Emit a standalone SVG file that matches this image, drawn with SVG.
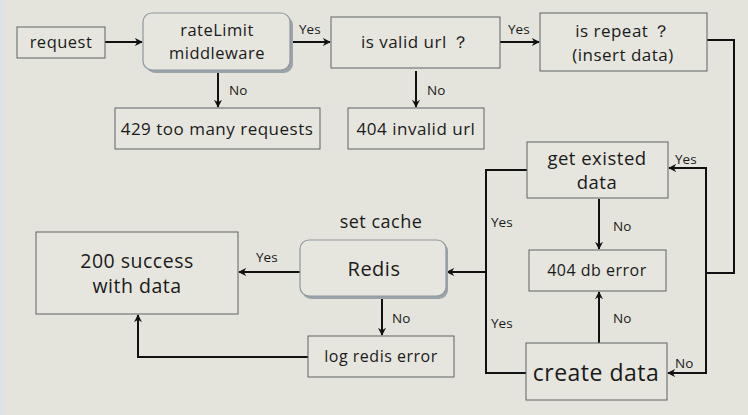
<svg xmlns="http://www.w3.org/2000/svg" width="748" height="415" viewBox="0 0 748 415">
<style>
.bx{fill:#e6e6de;stroke:#5e6266;stroke-width:1}
.rb{fill:#e6e6de;stroke:#8e979c;stroke-width:1.2}
.sh{fill:#9aa3aa}
.t{font-family:"Open Sans","DejaVu Sans",sans-serif;fill:#1a1a1a;text-anchor:middle;letter-spacing:0.5px}
.l{font-family:"Open Sans","DejaVu Sans",sans-serif;fill:#1a1a1a;font-size:13.5px}
.c{fill:none;stroke:#111;stroke-width:2}
</style>
<defs>
<marker id="a" viewBox="0 0 10 10" refX="9" refY="5" markerWidth="4" markerHeight="4" orient="auto" markerUnits="strokeWidth">
<path d="M0,0 L10,5 L0,10 L3,5 Z" fill="#111"/>
</marker>
</defs>
<rect width="748" height="415" fill="#e4e4dc"/>
<rect width="4" height="415" fill="#dde2e6"/>
<g id="connectors">
<path class="c" d="M105,42 H142" marker-end="url(#a)"/>
<path class="c" d="M290,42 H330" marker-end="url(#a)"/>
<path class="c" d="M500,42 H539" marker-end="url(#a)"/>
<path class="c" d="M218,71 V107" marker-end="url(#a)"/>
<path class="c" d="M416,71 V107" marker-end="url(#a)"/>
<path class="c" d="M707,40 H734 V273 H706"/>
<path class="c" d="M706,273 V168 H669" marker-end="url(#a)"/>
<path class="c" d="M706,273 V373 H668" marker-end="url(#a)"/>
<path class="c" d="M599,199 V249" marker-end="url(#a)"/>
<path class="c" d="M599,343 V292" marker-end="url(#a)"/>
<path class="c" d="M527,170 H486 V373 H526"/>
<path class="c" d="M486,272 H447" marker-end="url(#a)"/>
<path class="c" d="M300,272 H239" marker-end="url(#a)"/>
<path class="c" d="M382,298 V335" marker-end="url(#a)"/>
<path class="c" d="M308,357 H138 V315" marker-end="url(#a)"/>
<text class="l" x="299" y="34">Yes</text>
<text class="l" x="508" y="34">Yes</text>
<text class="l" x="229" y="95">No</text>
<text class="l" x="427" y="95">No</text>
<text class="l" x="675" y="164">Yes</text>
<text class="l" x="675" y="368">No</text>
<text class="l" x="613" y="231">No</text>
<text class="l" x="613" y="323">No</text>
<text class="l" x="491" y="227" font-size="15.5">Yes</text>
<text class="l" x="491" y="328" font-size="15.5">Yes</text>
<text class="l" x="256" y="262" font-size="15.5">Yes</text>
<text class="l" x="392" y="323">No</text>
</g>
<g id="request">
<rect class="bx" x="17" y="27" width="88" height="31"/>
<text class="t" x="61" y="48" font-size="16.5">request</text>
</g>
<g id="rateLimit">
<rect class="sh" x="146" y="16" width="147" height="57" rx="9"/>
<rect class="rb" x="143" y="13" width="147" height="57" rx="9"/>
<text class="t" x="217" y="36" font-size="16.5">rateLimit</text>
<text class="t" x="217" y="59" font-size="16.5">middleware</text>
</g>
<g id="validUrl">
<rect class="bx" x="331" y="17" width="169" height="51"/>
<text class="t" x="415" y="48" font-size="17">is valid url ？</text>
</g>
<g id="isRepeat">
<rect class="bx" x="540" y="13" width="167" height="58"/>
<text class="t" x="623" y="37" font-size="17">is repeat ？</text>
<text class="t" x="623" y="61" font-size="17">(insert data)</text>
</g>
<g id="tooMany">
<rect class="bx" x="115" y="108" width="205" height="41"/>
<text class="t" x="217" y="135" font-size="17">429 too many requests</text>
</g>
<g id="invalidUrl">
<rect class="bx" x="348" y="108" width="136" height="41"/>
<text class="t" x="416" y="135" font-size="17">404 invalid url</text>
</g>
<g id="getExisted">
<rect class="bx" x="527" y="142" width="141" height="56"/>
<text class="t" x="597" y="165" font-size="18.5">get existed</text>
<text class="t" x="597" y="189" font-size="18.5">data</text>
</g>
<g id="dbError">
<rect class="bx" x="529" y="250" width="137" height="41"/>
<text class="t" x="597" y="276" font-size="16">404 db error</text>
</g>
<g id="createData">
<rect class="bx" x="526" y="343" width="141" height="57"/>
<text class="t" x="596" y="381" font-size="23">create data</text>
</g>
<g id="success">
<rect class="bx" x="36" y="232" width="202" height="82"/>
<text class="t" x="137" y="268" font-size="19.5">200 success</text>
<text class="t" x="137" y="293" font-size="19.5">with data</text>
</g>
<g id="redis">
<text class="t" x="381" y="228" font-size="18">set cache</text>
<rect class="sh" x="302" y="242" width="146" height="57" rx="9"/>
<rect class="rb" x="300" y="240" width="146" height="56" rx="9"/>
<text class="t" x="374" y="276" font-size="20">Redis</text>
</g>
<g id="logRedis">
<rect class="bx" x="308" y="336" width="146" height="41"/>
<text class="t" x="381" y="362" font-size="16">log redis error</text>
</g>
</svg>
